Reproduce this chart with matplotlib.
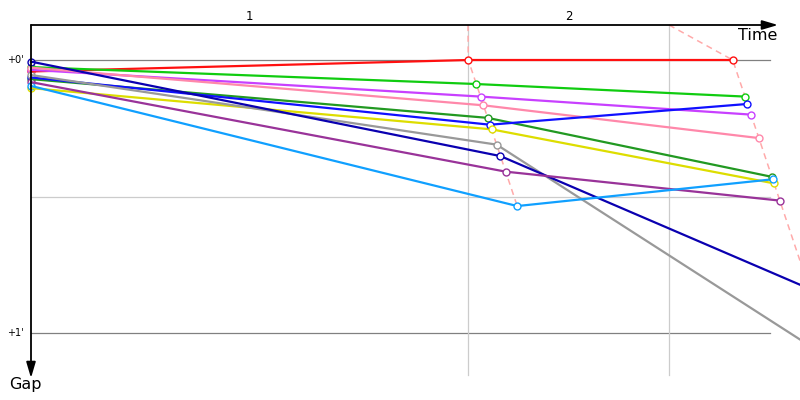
import matplotlib
matplotlib.use("Agg")
import matplotlib.pyplot as plt
from matplotlib.patches import FancyArrowPatch

plt.rcParams['font.family'] = ['DejaVu Sans']

# ---------------- data ----------------
drivers = ["red", "green", "magenta", "pink", "darkgreen", "blue",
           "yellow", "gray", "navy", "purple", "lightblue"]
colors = ["#ff1010", "#10cc10", "#c840ff", "#ff88aa", "#229922", "#1010ff",
          "#dddd00", "#999999", "#0a00b0", "#993399", "#10a0ff"]

# gap to leader (units of 1') at start, after lap 1, after lap 2
gap_start = [0.042, 0.026, 0.036, 0.028, 0.070, 0.064, 0.103, 0.055, 0.006, 0.081, 0.095]
gap_lap1 = [0.000, 0.088, 0.134, 0.166, 0.212, 0.237, 0.254, 0.310, 0.352, 0.409, 0.535]
gap_lap2 = [0.000, 0.134, 0.200, 0.286, 0.428, 0.161, 0.452, 1.103, 0.838, 0.515, 0.437]

# leader elapsed time at each crossing (same units as the gap)
leader_time = [0.0, 4.779, 7.669]
lap_lines = [4.776, 6.973]
lap_labels = ["1", "2"]
gap_ticks = [0, 1]
gap_tick_labels = ["+0'", "+1'"]
mid_gap = 0.5

# ---------------- figure ----------------
fig = plt.figure(figsize=(8, 4), dpi=100)
ax = fig.add_axes([0, 0, 1, 1])
ax.axis('off')
ax.set_xlim(-31 / 91.5, 769 / 91.5)
ax.set_ylim(340 / 273, -60 / 273)

top = -35 / 273
bottom = 315 / 273
grid_end = 739 / 91.5
arrow_x = 747 / 91.5
arrow_y = 318 / 273

# horizontal grid
for g in gap_ticks:
    ax.plot([0, grid_end], [g, g], color="#808080", lw=0.9, zorder=1)
ax.plot([0, grid_end], [mid_gap, mid_gap], color="#cccccc", lw=0.9, zorder=1)
# vertical lap lines
for t in lap_lines:
    ax.plot([t, t], [top, bottom], color="#cccccc", lw=0.9, zorder=1)

# lap labels
bounds = [0.0] + lap_lines
for i, lab in enumerate(lap_labels):
    ax.text((bounds[i] + bounds[i + 1]) / 2, -43 / 273, lab, ha='center',
            va='center', fontsize=8.5, color='black')

# gap tick labels
for g, lab in zip(gap_ticks, gap_tick_labels):
    ax.text(-16 / 91.5, g, lab, ha='center', va='center', fontsize=7)

# dashed lap crossing lines
for k, (lt, gaps) in enumerate([(lap_lines[0], gap_lap1), (lap_lines[1], gap_lap2)]):
    order = sorted(range(len(gaps)), key=lambda i: gaps[i])
    xs = [lt] + [leader_time[k + 1] + gaps[i] for i in order]
    ys = [top] + [gaps[i] for i in order]
    ax.plot(xs, ys, color="#ffaaaa", lw=1.1, ls=(0, (4, 3)), zorder=2)

# driver lines
for i in range(len(drivers)):
    xs = [leader_time[0], leader_time[1] + gap_lap1[i], leader_time[2] + gap_lap2[i]]
    ys = [gap_start[i], gap_lap1[i], gap_lap2[i]]
    # start marker, partly covered by the lines
    ax.plot(xs[:1], ys[:1], ls='none', marker='o', markersize=5,
            markerfacecolor='white', markeredgecolor=colors[i],
            markeredgewidth=1.0, zorder=2.5)
    ax.plot(xs, ys, color=colors[i], lw=1.6, zorder=3)
    ax.plot(xs[1:], ys[1:], ls='none', marker='o', markersize=5,
            markerfacecolor='white', markeredgecolor=colors[i],
            markeredgewidth=1.0, zorder=4)

# axes with arrows
a1 = FancyArrowPatch((0, top), (arrow_x, top), arrowstyle='-|>,head_length=0.95,head_width=0.28',
                     mutation_scale=10, color='black', lw=1.3, shrinkA=0, shrinkB=0, zorder=10)
a2 = FancyArrowPatch((0, top), (0, arrow_y), arrowstyle='-|>,head_length=0.95,head_width=0.28',
                     mutation_scale=10, color='black', lw=1.3, shrinkA=0, shrinkB=0, zorder=10)
ax.add_patch(a1)
ax.add_patch(a2)

ax.text(746 / 91.5, -25 / 273, "Time", ha='right', va='center', fontsize=11.5)
ax.text(-6 / 91.5, 325 / 273, "Gap", ha='center', va='center', fontsize=11.5)

fig.savefig("out.png", dpi=100)
